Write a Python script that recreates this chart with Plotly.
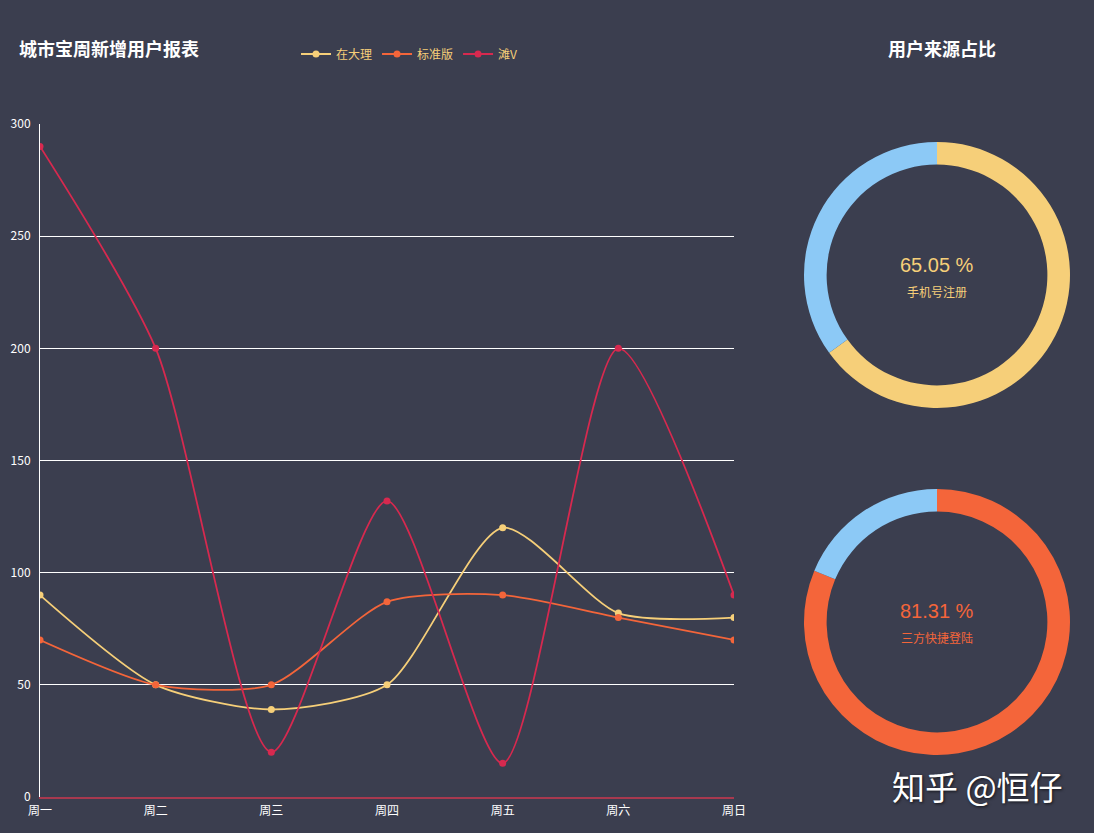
import plotly.graph_objects as go

# ---- data ----
days = ["周一", "周二", "周三", "周四", "周五", "周六", "周日"]
series_names = ["在大理", "标准版", "滩V"]
zaidali = [90, 50, 39, 50, 120, 82, 80]
biaozhun = [70, 50, 50, 87, 90, 80, 70]
tanv = [290, 200, 20, 132, 15, 200, 90]
y_ticks = [0, 50, 100, 150, 200, 250, 300]

pie1_labels = ["手机号注册", "其他"]
pie1_values = [65.05, 34.95]
pie2_labels = ["三方快捷登陆", "其他"]
pie2_values = [81.31, 18.69]

BG = "#3b3e4f"
YELLOW = "#f6cf79"
ORANGE = "#f4653a"
CRIMSON = "#d7294f"
BLUE = "#8cc9f6"
FONT = "Noto Sans CJK SC"

W, H = 1094, 833

def px_x(v):
    return v / W

def px_y(v):
    return 1 - v / H

fig = go.Figure()

for name, vals, col in zip(series_names, [zaidali, biaozhun, tanv], [YELLOW, ORANGE, CRIMSON]):
    fig.add_trace(go.Scatter(
        x=days, y=vals, name=name, mode="lines+markers",
        line=dict(color=col, width=1.8, shape="spline", smoothing=0.7),
        marker=dict(color=col, size=7),
    ))

fig.add_trace(go.Pie(
    labels=pie1_labels, values=pie1_values, hole=0.83, sort=False,
    direction="clockwise", rotation=0, textinfo="none", showlegend=False,
    marker=dict(colors=[YELLOW, BLUE], line=dict(width=0)),
    domain=dict(x=[px_x(804), px_x(1070)], y=[px_y(408), px_y(142)]),
    hoverinfo="label+percent",
))
fig.add_trace(go.Pie(
    labels=pie2_labels, values=pie2_values, hole=0.83, sort=False,
    direction="clockwise", rotation=0, textinfo="none", showlegend=False,
    marker=dict(colors=[ORANGE, BLUE], line=dict(width=0)),
    domain=dict(x=[px_x(804), px_x(1070)], y=[px_y(755), px_y(489)]),
    hoverinfo="label+percent",
))

annotations = [
    dict(text="<b>城市宝周新增用户报表</b>", x=px_x(17), y=px_y(48), xanchor="left", yanchor="middle",
         font=dict(size=18, color="white", family=FONT)),
    dict(text="<b>用户来源占比</b>", x=px_x(942), y=px_y(48), xanchor="center", yanchor="middle",
         font=dict(size=18, color="white", family=FONT)),
    dict(text=f"{pie1_values[0]:.2f} %", x=px_x(937), y=px_y(265), xanchor="center", yanchor="middle",
         font=dict(size=20, color=YELLOW, family="Liberation Sans")),
    dict(text=pie1_labels[0], x=px_x(937), y=px_y(291), xanchor="center", yanchor="middle",
         font=dict(size=12, color=YELLOW, family=FONT)),
    dict(text=f"{pie2_values[0]:.2f} %", x=px_x(937), y=px_y(611), xanchor="center", yanchor="middle",
         font=dict(size=20, color=ORANGE, family="Liberation Sans")),
    dict(text=pie2_labels[0], x=px_x(937), y=px_y(637), xanchor="center", yanchor="middle",
         font=dict(size=12, color=ORANGE, family=FONT)),
    dict(text="知乎 @恒仔", x=px_x(977), y=px_y(786), xanchor="center", yanchor="middle",
         font=dict(size=33, color="white", family=FONT, shadow="1px 1px 3px rgba(0,0,0,0.7)")),
]
for a in annotations:
    a.update(xref="paper", yref="paper", showarrow=False)

fig.update_layout(
    width=W, height=H,
    template="none",
    paper_bgcolor=BG, plot_bgcolor=BG,
    margin=dict(l=0, r=0, t=0, b=0),
    font=dict(family=FONT, color="white", size=12),
    annotations=annotations,
    showlegend=True,
    legend=dict(orientation="h", x=px_x(296), y=px_y(54), xanchor="left", yanchor="middle",
                font=dict(size=12, color=YELLOW, family=FONT), bgcolor="rgba(0,0,0,0)",
                itemwidth=30, tracegroupgap=0),
    xaxis=dict(domain=[px_x(40), px_x(734)], range=[0, 6], type="category",
               showgrid=False, showline=True, linecolor="#a8394f", linewidth=2,
               zeroline=False, ticks="", tickfont=dict(size=12, color="white"),
               ticklabelstandoff=2, automargin=False, fixedrange=True),
    yaxis=dict(domain=[px_y(797), px_y(124)], range=[0, 300], tickvals=y_ticks,
               showgrid=True, gridcolor="white", gridwidth=1,
               showline=True, linecolor="white", linewidth=1,
               zeroline=False, ticks="", tickfont=dict(size=12, color="white"),
               ticklabelstandoff=6, automargin=False, fixedrange=True),
)

fig.write_html(
    "out.html",
    config={"displayModeBar": False},
    post_script="document.body.style.margin='0';document.body.style.padding='0';"
                "document.body.style.background='" + BG + "';document.body.style.overflow='hidden';",
)
